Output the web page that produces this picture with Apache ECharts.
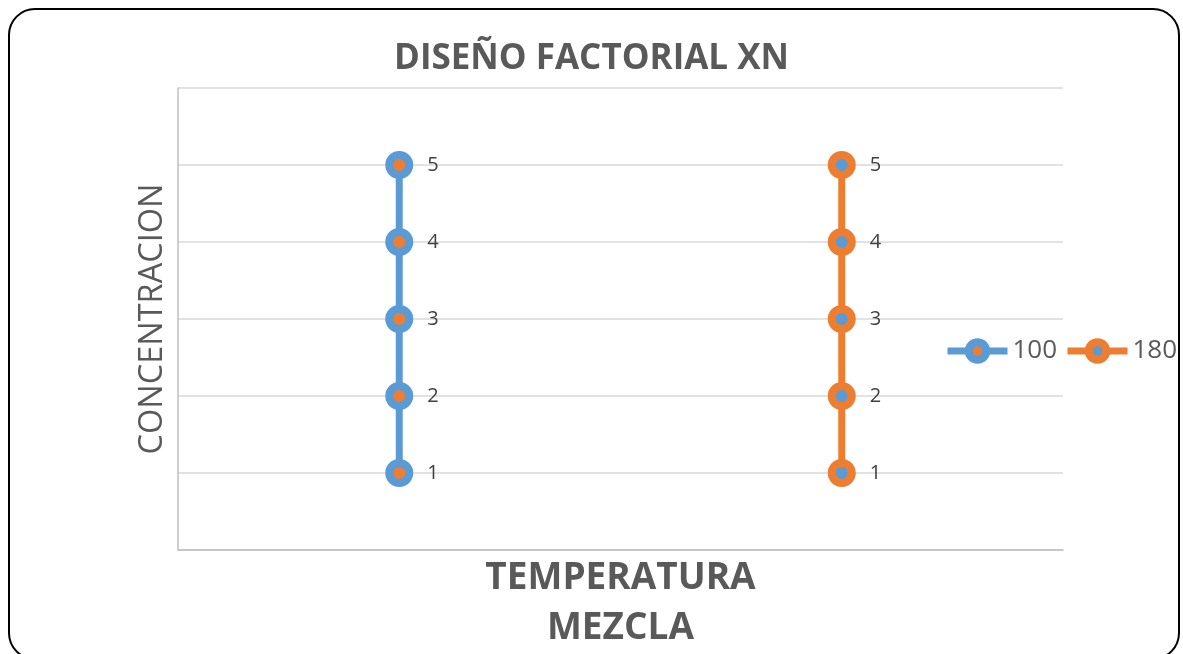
<!DOCTYPE html>
<html>
<head>
<meta charset="utf-8">
<script src="https://cdn.jsdelivr.net/npm/echarts@6/dist/echarts.min.js"></script>
<style>
  html, body { margin: 0; padding: 0; background: #ffffff; }
  #chart { width: 1183px; height: 654px; }
</style>
</head>
<body>
<div id="chart"></div>
<script>
// Factorial design: two temperature levels, five concentration levels each
const temperatures = ['100', '180'];
const concentrations100 = [1, 2, 3, 4, 5];
const concentrations180 = [1, 2, 3, 4, 5];
const yTicks = [0, 1, 2, 3, 4, 5, 6];

const BLUE = '#5b9bd5';
const ORANGE = '#ed7d31';
const TEXT = '#595959';
const FONT = '"Open Sans", Lato, sans-serif';

function levelSeries(name, catIndex, values, mainColor, dotColor) {
  return {
    name: name,
    type: 'line',
    data: values.map(v => [catIndex, v]),
    symbol: 'circle',
    symbolSize: 20,
    lineStyle: { color: mainColor, width: 7 },
    itemStyle: { color: dotColor, borderColor: mainColor, borderWidth: 8 },
    label: {
      show: true,
      position: 'right',
      distance: 14,
      fontSize: 20,
      fontFamily: FONT,
      color: '#404040',
      formatter: p => String(p.value[1])
    },
    emphasis: { disabled: true },
    animation: false
  };
}

// One legend entry per component so the pair stays on a single row
function legendEntry(name, left, mainColor, dotColor) {
  return {
    data: [{
      name: name,
      lineStyle: { width: 7, color: mainColor },
      itemStyle: { color: dotColor, borderColor: mainColor, borderWidth: 8 }
    }],
    orient: 'horizontal',
    left: left,
    top: 338,
    padding: 0,
    itemWidth: 60,
    itemHeight: 22,
    textStyle: { fontSize: 26, color: TEXT, fontFamily: FONT }
  };
}

const chart = echarts.init(document.getElementById('chart'), null, { renderer: 'canvas' });
chart.setOption({
  backgroundColor: '#ffffff',
  title: {
    text: 'DISEÑO FACTORIAL XN',
    left: 'center',
    top: 37,
    textStyle: { fontSize: 35, fontWeight: 'bold', color: TEXT, fontFamily: FONT }
  },
  legend: [
    legendEntry(temperatures[0], 944, BLUE, ORANGE),
    legendEntry(temperatures[1], 1064, ORANGE, BLUE)
  ],
  grid: { left: 178, right: 120, top: 88, bottom: 104, containLabel: false, outerBoundsMode: 'none' },
  xAxis: {
    type: 'category',
    data: temperatures,
    boundaryGap: true,
    name: 'TEMPERATURA\nMEZCLA',
    nameLocation: 'middle',
    nameGap: 3,
    nameTextStyle: {
      fontSize: 37, fontWeight: 'bold', color: TEXT, fontFamily: FONT,
      lineHeight: 50, verticalAlign: 'top'
    },
    axisLine: { show: true, lineStyle: { color: '#bfbfbf', width: 1.5 } },
    axisTick: { show: false },
    axisLabel: { show: false },
    splitLine: { show: false }
  },
  yAxis: {
    type: 'value',
    min: yTicks[0],
    max: yTicks[yTicks.length - 1],
    interval: 1,
    name: 'CONCENTRACION',
    nameLocation: 'middle',
    nameGap: 9,
    nameRotate: 90,
    nameTextStyle: { fontSize: 32.5, color: TEXT, fontFamily: FONT },
    axisLine: { show: true, lineStyle: { color: '#bfbfbf', width: 1.5 } },
    axisTick: { show: false },
    axisLabel: { show: false },
    splitLine: { show: true, lineStyle: { color: '#d9d9d9', width: 1.5 } }
  },
  series: [
    levelSeries(temperatures[0], 0, concentrations100, BLUE, ORANGE),
    levelSeries(temperatures[1], 1, concentrations180, ORANGE, BLUE)
  ],
  graphic: [{
    type: 'rect',
    shape: { x: 9, y: 9, width: 1170, height: 650, r: 26 },
    style: { fill: 'none', stroke: '#000000', lineWidth: 2 },
    silent: true,
    z: 100
  }]
});
</script>
</body>
</html>
